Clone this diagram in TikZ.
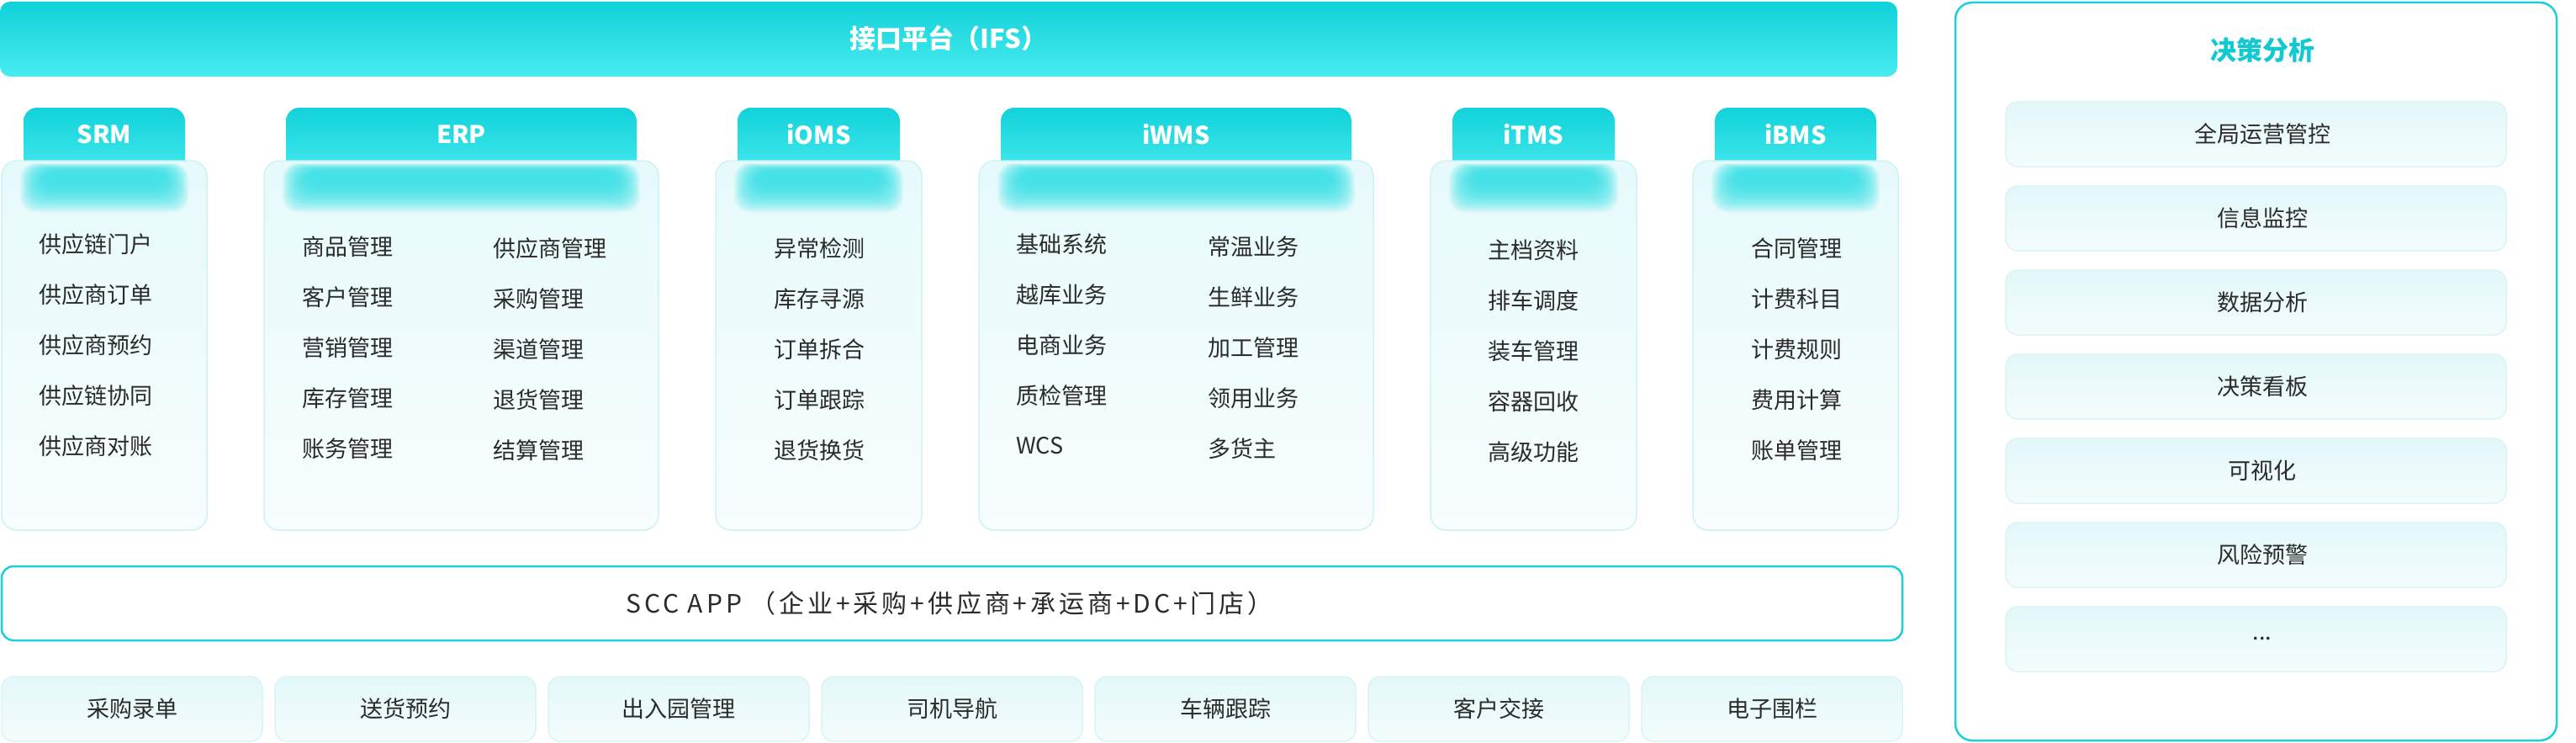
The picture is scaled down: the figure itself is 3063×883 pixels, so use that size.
\documentclass[tikz,border=0pt]{standalone}
\usepackage{fontspec}
\setmainfont{Noto Sans CJK SC}
\definecolor{txt}{HTML}{2B2B2B}
\definecolor{cyTop}{HTML}{10D1D9}
\definecolor{cyBot}{HTML}{48ECEF}
\definecolor{tabTop}{HTML}{12D2DA}
\definecolor{tabBot}{HTML}{48ECEF}
\definecolor{panTop}{HTML}{E6FAFB}
\definecolor{panBot}{HTML}{F8FDFE}
\definecolor{panLine}{HTML}{CFF2F5}
\definecolor{glowc}{HTML}{2EE2E8}
\definecolor{cyLine}{HTML}{1BD0D8}
\definecolor{cyTitle}{HTML}{12C8D1}
\definecolor{itTop}{HTML}{E3F8F9}
\definecolor{itBot}{HTML}{F4FCFD}
\definecolor{itLine}{HTML}{DAF3F5}
\newcommand\fsitem{\fontsize{27}{32}\selectfont}
\newcommand\fsscc{\fontsize{30}{34}\selectfont\addfontfeature{LetterSpace=13}}
\newcommand\fstab{\fontsize{29}{34}\selectfont\bfseries}
\newcommand\fsifs{\fontsize{31}{36}\selectfont\bfseries}
\newcommand\fsdec{\fontsize{31}{36}\selectfont\bfseries}
\tikzset{
  every node/.style={inner sep=0pt, text=txt},
  itemtxt/.style={font=\fsitem},
  tabshade/.style={top color=tabTop, bottom color=tabBot, rounded corners=16pt},
  panelshade/.style={top color=panTop, bottom color=panBot, draw=panLine, line width=1.5pt, rounded corners=18pt},
  tablabel/.style={font=\fstab, text=white},
  smallbox/.style={top color=itTop, bottom color=itBot, draw=itLine, line width=1.5pt, rounded corners=14pt},
}
\newcommand\syscol[4]{%
  \pgfmathsetmacro\tabl{#2+26}\pgfmathsetmacro\tabr{#3-26}\pgfmathsetmacro\colc{(#2+#3)/2}%
  \path[tabshade] (\tabl,128) rectangle (\tabr,215);
  \path[panelshade] (#2,191) rectangle (#3,630);
  \foreach \i in {0,1,2,3,4,5,6,7,8,9,10,11,12,13,14,15,16,17,18,19}{\fill[glowc, opacity=0.09, rounded corners=18pt] (\tabl-4+\i*1.5,194+\i*0.5) rectangle (\tabr+4-\i*1.5,252-\i*1.7);}
  \node[tablabel] (#1) at (\colc,160) {#4};
}
\begin{document}
\begin{tikzpicture}[x=1pt,y=-1pt]
\useasboundingbox (0,0) rectangle (3063,883);
% interface platform bar
\path[top color=cyTop, bottom color=cyBot, rounded corners=12pt] (0,2) rectangle (2256,91);
\node[font=\fsifs, text=white] (ifs) at (1128,45) {接口平台（IFS）};
% system columns
\syscol{srm}{2}{246}{SRM}
\syscol{erp}{314}{783}{ERP}
\syscol{ioms}{851}{1096}{iOMS}
\syscol{iwms}{1164}{1633}{iWMS}
\syscol{itms}{1701}{1946}{iTMS}
\syscol{ibms}{2013}{2257}{iBMS}
% SRM items
\foreach \t [count=\k from 0] in {供应链门户,供应商订单,供应商预约,供应链协同,供应商对账}
  \node[itemtxt, anchor=west] (srm\k) at (46,290+60*\k) {\t};
% ERP items
\foreach \t [count=\k from 0] in {商品管理,客户管理,营销管理,库存管理,账务管理}
  \node[itemtxt, anchor=west] (erpa\k) at (359,293+60*\k) {\t};
\foreach \t [count=\k from 0] in {供应商管理,采购管理,渠道管理,退货管理,结算管理}
  \node[itemtxt, anchor=west] (erpb\k) at (586,295+60*\k) {\t};
% iOMS items
\foreach \t [count=\k from 0] in {异常检测,库存寻源,订单拆合,订单跟踪,退货换货}
  \node[itemtxt] (ioms\k) at (974,295+60*\k) {\t};
% iWMS items
\foreach \t [count=\k from 0] in {基础系统,越库业务,电商业务,质检管理,WCS}
  \node[itemtxt, anchor=west] (iwmsa\k) at (1208,290+60*\k) {\t};
\foreach \t [count=\k from 0] in {常温业务,生鲜业务,加工管理,领用业务,多货主}
  \node[itemtxt, anchor=west] (iwmsb\k) at (1436,293+60*\k) {\t};
% iTMS items
\foreach \t [count=\k from 0] in {主档资料,排车调度,装车管理,容器回收,高级功能}
  \node[itemtxt] (itms\k) at (1823,297+60*\k) {\t};
% iBMS items
\foreach \t [count=\k from 0] in {合同管理,计费科目,计费规则,费用计算,账单管理}
  \node[itemtxt] (ibms\k) at (2136,295+60*\k) {\t};
% SCC APP bar
\path[draw=cyLine, line width=2.5pt, fill=white, rounded corners=14pt] (2,673) rectangle (2262,761);
\node[font=\fsscc] (scc) at (1129,717) {SCC APP （企业+采购+供应商+承运商+DC+门店）};
% bottom boxes
\foreach \t [count=\k from 0] in {采购录单,送货预约,出入园管理,司机导航,车辆跟踪,客户交接,电子围栏}{
  \path[smallbox] (2+325*\k,804) rectangle (312+325*\k,881);
  \node[itemtxt] (app\k) at (157+325*\k,842) {\t};
}
% decision analysis panel
\path[draw=cyLine, line width=2.5pt, fill=white, rounded corners=20pt] (2325,3) rectangle (3040,880);
\node[font=\fsdec, text=cyTitle] (dectitle) at (2690,60) {决策分析};
\foreach \t [count=\k from 0] in {全局运营管控,信息监控,数据分析,决策看板,可视化,风险预警}{
  \path[smallbox] (2385,121+100*\k) rectangle (2980,198+100*\k);
  \node[itemtxt] (dec\k) at (2690,159+100*\k) {\t};
}
\path[smallbox] (2385,721) rectangle (2980,798);
\node[itemtxt] (dec6) at (2690,759) {...};
\end{tikzpicture}
\end{document}
